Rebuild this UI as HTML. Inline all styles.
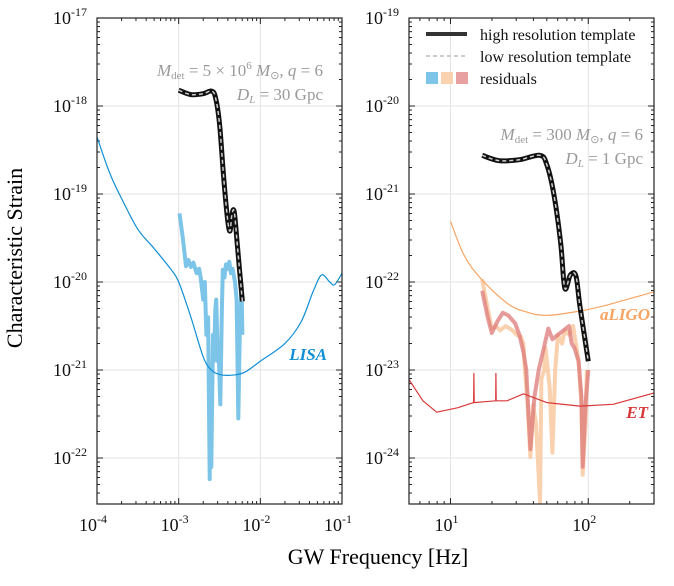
<!DOCTYPE html>
<html><head><meta charset="utf-8"><style>
body{margin:0;background:#fff;}
svg{display:block;font-family:"Liberation Serif",serif;}
</style></head><body>
<svg id="chart" width="674" height="586" viewBox="0 0 674 586" xmlns="http://www.w3.org/2000/svg">
<g id="left"></g>
<g id="right"></g>
<text x="22" y="258" transform="rotate(-90 22 258)" text-anchor="middle" font-size="22" fill="#000">Characteristic Strain</text>
<text x="378" y="564" text-anchor="middle" font-size="22" fill="#000">GW Frequency [Hz]</text>
</svg>
<script>
// ---- LISA panel data (log10 f, log10 h) ----
const lisaF = [-4,-3.85,-3.7,-3.5,-3.3,-3.1,-3,-2.85,-2.7,-2.6,-2.5,-2.37,-2.2,-2,-1.7,-1.5,-1.35,-1.25,-1.15,-1.09,-1];
const lisaH = [-18.35,-18.75,-19.05,-19.4,-19.62,-19.85,-20.0,-20.4,-20.85,-21.0,-21.05,-21.06,-21.03,-20.9,-20.7,-20.45,-20.1,-19.92,-20.0,-20.03,-19.9];
const tmplLF = [-3,-2.85,-2.7,-2.6,-2.55,-2.5,-2.45,-2.4,-2.37,-2.35,-2.32,-2.28,-2.22];
const tmplLH = [-17.82,-17.87,-17.86,-17.83,-17.9,-18.2,-18.8,-19.3,-19.42,-19.25,-19.2,-19.6,-20.22];
const resLF = [-2.99,-2.95,-2.91,-2.88,-2.85,-2.82,-2.78,-2.75,-2.73,-2.7,-2.68,-2.66,-2.64,-2.62,-2.61,-2.6,-2.58,-2.57,-2.55,-2.54,-2.52,-2.51,-2.49,-2.47,-2.46,-2.44,-2.42,-2.4,-2.38,-2.36,-2.34,-2.31,-2.29,-2.28,-2.27,-2.25,-2.23,-2.22];
const resLH = [-19.22,-19.5,-19.82,-19.75,-19.83,-19.78,-19.9,-19.85,-19.95,-20.2,-20.0,-20.6,-20.4,-22.24,-21.0,-22.1,-20.6,-20.9,-20.3,-20.2,-20.9,-20.8,-21.39,-20.3,-19.86,-19.95,-19.8,-19.85,-19.77,-19.9,-19.85,-20.0,-20.2,-20.9,-21.55,-20.5,-20.02,-20.6];
// ---- Ground panel data ----
const ligoF = [1.0,1.1,1.22,1.41,1.55,1.70,1.94,2.14,2.3,2.48];
const ligoH = [-21.31,-21.7,-21.96,-22.24,-22.34,-22.38,-22.33,-22.26,-22.19,-22.11];
const etF = [0.70,0.80,0.90,1.05,1.168,1.17,1.172,1.25,1.328,1.33,1.332,1.41,1.53,1.70,1.94,2.18,2.48];
const etH = [-23.11,-23.35,-23.48,-23.43,-23.37,-23.04,-23.37,-23.36,-23.35,-23.04,-23.35,-23.35,-23.27,-23.37,-23.41,-23.39,-23.26];
const tmplRF = [1.23,1.35,1.5,1.65,1.70,1.75,1.80,1.83,1.87,1.91,1.94,2.0];
const tmplRH = [-20.56,-20.62,-20.61,-20.56,-20.67,-21.0,-21.56,-22.07,-21.92,-21.93,-22.28,-22.9];
const resOF = [1.23,1.27,1.30,1.33,1.36,1.40,1.45,1.48,1.51,1.53,1.54,1.56,1.58,1.60,1.62,1.64,1.65,1.66,1.68,1.69,1.72,1.74,1.76,1.78,1.81,1.83,1.86,1.89,1.91,1.93,1.95,1.96,1.98,1.99];
const resOH = [-21.97,-22.3,-22.53,-22.5,-22.55,-22.5,-22.55,-22.6,-22.62,-22.7,-23.0,-23.4,-23.99,-23.4,-23.6,-24.2,-24.5,-23.1,-23.0,-22.75,-23.2,-23.94,-23.0,-22.6,-22.7,-22.55,-22.6,-22.5,-22.7,-22.9,-23.4,-24.19,-23.6,-23.0];
const resRF = [1.23,1.27,1.30,1.34,1.38,1.42,1.47,1.50,1.53,1.55,1.56,1.58,1.60,1.61,1.63,1.64,1.67,1.71,1.74,1.78,1.82,1.86,1.88,1.90,1.93,1.95,1.96,1.98,2.0];
const resRH = [-22.1,-22.4,-22.58,-22.45,-22.35,-22.38,-22.47,-22.6,-22.8,-23.0,-23.3,-23.9,-23.5,-23.3,-23.1,-23.0,-22.8,-22.53,-22.65,-22.6,-22.55,-22.5,-22.7,-22.75,-22.9,-23.3,-24.1,-23.4,-23.0];
const leftXTicks = [-4,-3,-2,-1];
const rightXTicks = [1,2];
const leftYTicks = [-17,-18,-19,-20,-21,-22];
const rightYTicks = [-19,-20,-21,-22,-23,-24];

const NS="http://www.w3.org/2000/svg";
function mk(p,tag,a){const e=document.createElementNS(NS,tag);for(const k in a)e.setAttribute(k,a[k]);p.appendChild(e);return e;}
const TOP=18, BOT=504, DEC=88;
function panel(g,x0,x1,fmin,fmax,ymaxLog,xT,yT){
  const xs=v=>x0+(v-fmin)/(fmax-fmin)*(x1-x0);
  const ys=v=>TOP+(ymaxLog-v)*DEC;
  const ymin=ymaxLog-(BOT-TOP)/DEC;
  xT.forEach(t=>{const l=mk(g,'line',{x1:xs(t),x2:xs(t),y1:TOP,y2:BOT,stroke:'#e3e3e3','stroke-width':1});
    
    });
  yT.forEach(t=>{const l=mk(g,'line',{x1:x0,x2:x1,y1:ys(t),y2:ys(t),stroke:'#e3e3e3','stroke-width':1});
    
    });
  const tk=mk(g,'g',{stroke:'#222','stroke-width':1});
  
  
  for(let d=Math.floor(fmin);d<fmax;d++){for(let m=1;m<10;m++){const v=d+Math.log10(m);if(v<fmin-1e-9||v>fmax+1e-9)continue;const L=m==1?6:3;const X=xs(v);
    mk(tk,'line',{x1:X,x2:X,y1:BOT,y2:BOT-L});mk(tk,'line',{x1:X,x2:X,y1:TOP,y2:TOP+L});}}
  for(let d=Math.floor(ymin);d<ymaxLog;d++){for(let m=1;m<10;m++){const v=d+Math.log10(m);if(v<ymin-1e-9||v>ymaxLog+1e-9)continue;const L=m==1?6:3;const Y=ys(v);
    mk(tk,'line',{x1:x0,x2:x0+L,y1:Y,y2:Y});mk(tk,'line',{x1:x1,x2:x1-L,y1:Y,y2:Y});}}
  xT.forEach(t=>{const tx=mk(g,'text',{x:xs(t)-4,y:531,'text-anchor':'middle','font-size':18,fill:'#111'});
    
    
    tx.textContent='10';const s=mk(tx,'tspan',{dy:-8,'font-size':12});s.textContent=String(t);});
  yT.forEach(t=>{const tx=mk(g,'text',{x:x0-44,y:ys(t)+6,'font-size':18,fill:'#111'});
    
    
    tx.textContent='10';const s=mk(tx,'tspan',{dy:-8,'font-size':12});s.textContent=String(t);});
  return {xs,ys};
}
function path(F,H,xs,ys){return F.map((f,i)=>(i?'L':'M')+xs(f).toFixed(1)+' '+ys(H[i]).toFixed(1)).join(' ');}
function smooth(F,H,xs,ys){
  const P=F.map((f,i)=>[xs(f),ys(H[i])]);
  let d='M'+P[0][0].toFixed(1)+' '+P[0][1].toFixed(1);
  for(let i=0;i<P.length-1;i++){
    const p0=P[i-1]||P[i],p1=P[i],p2=P[i+1],p3=P[i+2]||P[i+1];
    const c1=[p1[0]+(p2[0]-p0[0])/6,p1[1]+(p2[1]-p0[1])/6];
    const c2=[p2[0]-(p3[0]-p1[0])/6,p2[1]-(p3[1]-p1[1])/6];
    d+=' C'+c1.map(v=>v.toFixed(1)).join(' ')+' '+c2.map(v=>v.toFixed(1)).join(' ')+' '+p2[0].toFixed(1)+' '+p2[1].toFixed(1);
  }
  return d;
}
function clip(g,id,x0,x1){const d=mk(g,'clipPath',{id});mk(d,'rect',{x:x0,y:TOP,width:x1-x0,height:BOT-TOP});}

// left panel
const Lg=document.getElementById('left');
const lp=panel(Lg,97,342,-4,-1,-17,leftXTicks,leftYTicks);
clip(Lg,'cl',97,342);
const gl=mk(Lg,'g',{'clip-path':'url(#cl)','fill':'none'});
let e;
e=mk(gl,'path',{d:path(resLF,resLH,lp.xs,lp.ys),stroke:'#7cc4e8','stroke-width':4,'stroke-linejoin':'round'});


e=mk(gl,'path',{d:smooth(lisaF,lisaH,lp.xs,lp.ys),stroke:'#108fd4','stroke-width':1.2});


e=mk(gl,'path',{d:smooth(tmplLF,tmplLH,lp.xs,lp.ys),stroke:'#111','stroke-width':5});


e=mk(gl,'path',{d:smooth(tmplLF,tmplLH,lp.xs,lp.ys),stroke:'#ccc','stroke-width':1.5,'stroke-dasharray':'4 3'});


mk(Lg,'rect',{x:97,y:TOP,width:245,height:BOT-TOP,fill:'none',stroke:'#222','stroke-width':1.2});
e=mk(Lg,'text',{x:327,y:360,'text-anchor':'end','font-size':17,'font-weight':'bold','font-style':'italic',fill:'#108fd4'});


e.textContent='LISA';
e=mk(Lg,'text',{x:323,y:76,'text-anchor':'end','font-size':17,fill:'#9a9a9a','font-style':'italic'});


e.innerHTML='M<tspan font-size="11" font-style="normal" dy="3">det</tspan><tspan font-style="normal" dy="-3"> = 5 × 10</tspan><tspan font-size="11" font-style="normal" dy="-7">6</tspan><tspan dy="7"> M</tspan><tspan font-size="11" font-style="normal" dy="3">⊙</tspan><tspan dy="-3">, q</tspan><tspan font-style="normal"> = 6</tspan>';
e=mk(Lg,'text',{x:323,y:100,'text-anchor':'end','font-size':17,fill:'#9a9a9a','font-style':'italic'});


e.innerHTML='D<tspan font-size="11" dy="3">L</tspan><tspan font-style="normal" dy="-3"> = 30 Gpc</tspan>';

// right panel
const Rg=document.getElementById('right');
const rp=panel(Rg,409,654,Math.log10(5),Math.log10(300),-19,rightXTicks,rightYTicks);
clip(Rg,'cr',409,654);
const gr=mk(Rg,'g',{'clip-path':'url(#cr)','fill':'none'});
e=mk(gr,'path',{d:path(resOF,resOH,rp.xs,rp.ys),stroke:'#f9c9a0','stroke-width':4,opacity:0.85,'stroke-linejoin':'round'});


e=mk(gr,'path',{d:path(resRF,resRH,rp.xs,rp.ys),stroke:'#dc7a78','stroke-width':4,opacity:0.75,'stroke-linejoin':'round'});


e=mk(gr,'path',{d:smooth(ligoF,ligoH,rp.xs,rp.ys),stroke:'#f7a463','stroke-width':1.2});


e=mk(gr,'path',{d:path(etF,etH,rp.xs,rp.ys),stroke:'#d83a3a','stroke-width':1.2,'stroke-linejoin':'round'});


e=mk(gr,'path',{d:smooth(tmplRF,tmplRH,rp.xs,rp.ys),stroke:'#111','stroke-width':5});


e=mk(gr,'path',{d:smooth(tmplRF,tmplRH,rp.xs,rp.ys),stroke:'#ccc','stroke-width':1.5,'stroke-dasharray':'4 3'});


mk(Rg,'rect',{x:409,y:TOP,width:245,height:BOT-TOP,fill:'none',stroke:'#222','stroke-width':1.2});
e=mk(Rg,'text',{x:650,y:320,'text-anchor':'end','font-size':17,'font-weight':'bold','font-style':'italic',fill:'#f7a463'});


e.textContent='aLIGO';
e=mk(Rg,'text',{x:648,y:418,'text-anchor':'end','font-size':17,'font-weight':'bold','font-style':'italic',fill:'#d83a3a'});


e.textContent='ET';
e=mk(Rg,'text',{x:643,y:140,'text-anchor':'end','font-size':17,fill:'#9a9a9a','font-style':'italic'});


e.innerHTML='M<tspan font-size="11" font-style="normal" dy="3">det</tspan><tspan font-style="normal" dy="-3"> = 300 </tspan><tspan>M</tspan><tspan font-size="11" font-style="normal" dy="3">⊙</tspan><tspan dy="-3">, q</tspan><tspan font-style="normal"> = 6</tspan>';
e=mk(Rg,'text',{x:643,y:164,'text-anchor':'end','font-size':17,fill:'#9a9a9a','font-style':'italic'});


e.innerHTML='D<tspan font-size="11" dy="3">L</tspan><tspan font-style="normal" dy="-3"> = 1 Gpc</tspan>';
// legend
const lg=mk(Rg,'g',{});


mk(lg,'line',{x1:426,x2:467,y1:34,y2:34,stroke:'#333','stroke-width':4});
mk(lg,'line',{x1:426,x2:467,y1:56,y2:56,stroke:'#bbb','stroke-width':1.5,'stroke-dasharray':'4 3'});
mk(lg,'rect',{x:426,y:72,width:12,height:12,fill:'#7cc4e8'});
mk(lg,'rect',{x:441,y:72,width:12,height:12,fill:'#fad2b0'});
mk(lg,'rect',{x:456,y:72,width:12,height:12,fill:'#e8a0a0'});
[['high resolution template',40],['low resolution template',62],['residuals',84]].forEach(([t,y])=>{
  const tx=mk(lg,'text',{x:480,y:y,'font-size':16,fill:'#111'});
  
  
  tx.textContent=t;});
</script>
</body></html>
